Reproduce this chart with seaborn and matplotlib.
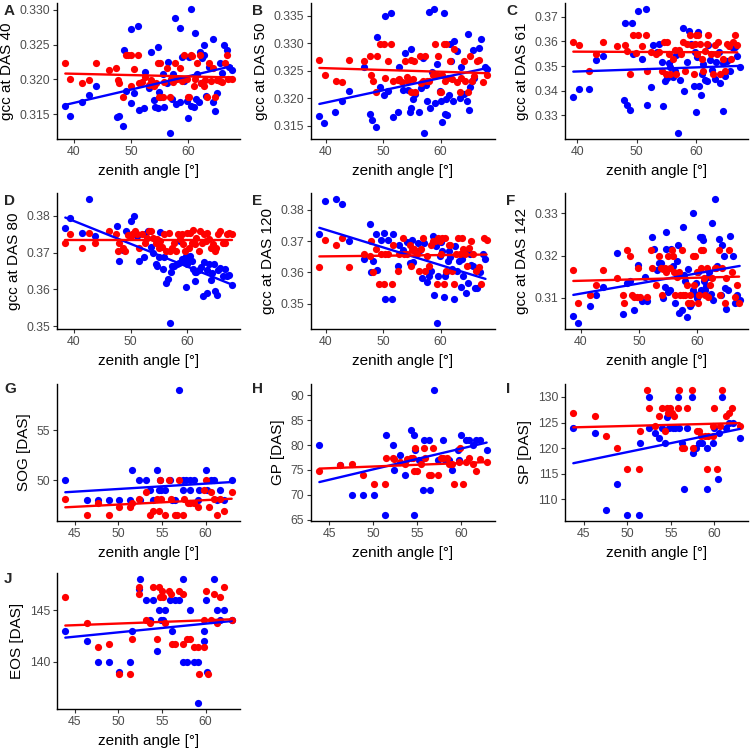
import numpy as np
import matplotlib
matplotlib.use("Agg")
import matplotlib.pyplot as plt
import seaborn as sns

# ---- data: (zenith angle, value) ----
a_blue = [(38.5,.3161),(39.4,.3147),(41.5,.3167),(42.6,.3178),(43.8,.3191),(47.6,.3146),(48.0,.3147),(48.6,.3133),
          (48.8,.3242),(49.2,.3183),(50.0,.3166),(50.1,.3272),(50.6,.3181),(51.2,.3277),(51.5,.3156),(52.3,.3159),
          (52.5,.3210),(53.1,.3187),(53.6,.3240),(54.0,.3170),(54.2,.3160),(54.7,.3247),(54.7,.3159),(55.0,.3182),
          (55.2,.3174),(55.7,.3207),(55.8,.3160),(56.3,.3195),(56.6,.3225),(56.9,.3123),(57.3,.3171),(57.4,.3208),
          (57.8,.3288),(58.0,.3164),(58.7,.3274),(58.7,.3167),(59.0,.3232),(59.3,.3197),(59.8,.3169),(60.0,.3145),
          (60.2,.3232),(60.5,.3301),(60.6,.3162),(61.0,.3160),(61.3,.3266),(61.5,.3171),(61.6,.3207),(62.0,.3167),
          (62.2,.3240),(62.4,.3195),(62.8,.3249),(62.9,.3235),(63.2,.3176),(63.8,.3218),(64.4,.3167),(64.5,.3258),
          (64.7,.3155),(65.2,.3181),(65.6,.3223),(66.0,.3209),(66.4,.3249),(66.9,.3242),(67.3,.3218),(67.7,.3214),
          (62.5,.3230)]
a_red = [(38.5,.3224),(39.4,.3200),(41.5,.3195),(42.6,.3199),(43.8,.3224),(46.2,.3214),(47.4,.3217),(47.7,.3199),
         (48.0,.3195),(48.6,.3174),(49.1,.3235),(49.5,.3235),(50.0,.3190),(50.1,.3235),(50.6,.3215),(51.2,.3235),
         (51.5,.3195),(52.0,.3196),(52.5,.3204),(53.1,.3192),(53.5,.3199),(54.0,.3190),(54.4,.3195),(54.7,.3224),
         (55.0,.3175),(55.2,.3224),(55.7,.3175),(55.8,.3196),(56.3,.3216),(56.9,.3175),(57.0,.3200),(57.4,.3196),
         (57.8,.3224),(58.1,.3200),(58.7,.3216),(59.0,.3197),(59.4,.3235),(59.8,.3200),(60.0,.3175),(60.2,.3174),
         (60.5,.3235),(60.8,.3233),(61.0,.3191),(61.3,.3200),(61.7,.3224),(62.2,.3235),(62.4,.3195),(62.8,.3190),
         (63.1,.3199),(63.4,.3175),(63.8,.3224),(64.1,.3197),(64.5,.3217),(64.8,.3175),(65.2,.3199),(65.7,.3197),
         (66.0,.3196),(66.5,.3224),(66.9,.3235),(67.0,.3200),(67.7,.3200)]

b_blue = [(38.9,.3168),(39.7,.3155),(41.7,.3174),(42.9,.3195),(44.0,.3214),(46.6,.3257),(47.7,.3171),(48.1,.3161),
          (48.7,.3148),(49.0,.3311),(49.5,.3221),(50.1,.3206),(50.3,.3349),(50.9,.3214),(51.4,.3355),(51.7,.3166),
          (52.6,.3174),(52.7,.3257),(53.5,.3215),(53.8,.3283),(54.4,.3215),(54.6,.3174),(54.8,.3289),(54.9,.3183),
          (55.2,.3198),(55.6,.3207),(56.2,.3174),(56.5,.3218),(56.9,.3230),(57.0,.3274),(57.1,.3137),(57.4,.3224),
          (57.6,.3194),(58.0,.3356),(58.1,.3183),(58.5,.3248),(58.8,.3362),(59.0,.3192),(59.3,.3263),(59.8,.3214),
          (60.0,.3195),(60.2,.3157),(60.6,.3355),(60.8,.3171),(61.0,.3198),(61.1,.3170),(61.4,.3206),(61.6,.3298),
          (61.8,.3267),(62.2,.3195),(62.4,.3304),(62.8,.3285),(63.3,.3201),(63.5,.3257),(64.0,.3207),(64.5,.3194),
          (64.7,.3317),(64.9,.3179),(65.1,.3220),(65.6,.3287),(65.8,.3237),(66.6,.3292),(67.0,.3307),(67.7,.3257),
          (68.0,.3254),(65.4,.3231)]
b_red = [(38.9,.3270),(39.8,.3242),(41.8,.3232),(42.9,.3229),(44.0,.3270),(46.6,.3268),(47.7,.3276),(47.9,.3242),
         (48.2,.3232),(48.7,.3211),(49.0,.3276),(49.5,.3298),(50.2,.3298),(50.3,.3237),(50.8,.3268),(51.4,.3298),
         (51.7,.3232),(52.6,.3233),(52.7,.3235),(53.3,.3229),(53.8,.3268),(54.1,.3238),(54.4,.3232),(54.8,.3270),
         (54.9,.3212),(55.2,.3235),(55.4,.3268),(55.6,.3212),(56.4,.3276),(56.5,.3227),(56.9,.3232),(57.3,.3276),
         (57.6,.3232),(57.9,.3232),(58.6,.3242),(59.0,.3298),(59.3,.3242),(59.6,.3276),(59.9,.3211),(60.1,.3211),
         (60.3,.3242),(60.6,.3298),(60.8,.3231),(61.0,.3298),(61.3,.3237),(61.6,.3268),(62.0,.3235),(62.4,.3289),
         (62.9,.3229),(63.3,.3211),(63.5,.3237),(64.0,.3268),(64.3,.3232),(64.8,.3211),(65.1,.3276),(65.4,.3232),
         (65.8,.3241),(66.3,.3268),(66.6,.3270),(67.4,.3229),(68.0,.3242)]

c_blue = [(39.3,.3374),(40.2,.3407),(42.0,.3407),(43.1,.3526),(44.3,.3540),(47.8,.3362),(48.0,.3676),(48.3,.3342),
          (48.9,.3322),(49.2,.3673),(49.4,.3548),(50.3,.3723),(50.9,.3530),(51.5,.3731),(51.8,.3340),(52.5,.3415),
          (52.7,.3586),(53.4,.3556),(53.8,.3588),(54.2,.3516),(54.5,.3338),(54.8,.3439),(55.1,.3450),(55.4,.3514),
          (55.7,.3498),(56.1,.3455),(56.4,.3479),(56.7,.3543),(57.0,.3229),(57.4,.3442),(57.8,.3655),(58.0,.3399),
          (58.5,.3516),(58.8,.3644),(59.1,.3588),(59.7,.3421),(59.8,.3559),(60.0,.3314),(60.2,.3538),(60.4,.3639),
          (60.6,.3418),(60.8,.3383),(61.0,.3466),(61.2,.3508),(61.5,.3445),(61.8,.3439),(62.1,.3586),(62.4,.3526),
          (62.7,.3485),(63.2,.3447),(63.4,.3516),(64.0,.3431),(64.5,.3317),(64.6,.3511),(64.9,.3460),(65.2,.3522),
          (65.8,.3479),(66.2,.3572),(66.6,.3578),(67.0,.3539),(67.4,.3495),(63.9,.3559)]
c_red = [(39.3,.3596),(40.2,.3586),(42.0,.3482),(43.1,.3548),(44.3,.3596),(46.7,.3580),(48.0,.3586),(48.3,.3562),
         (48.9,.3466),(49.4,.3628),(49.9,.3554),(50.3,.3628),(50.9,.3580),(51.5,.3628),(51.7,.3482),(52.5,.3559),
         (53.3,.3551),(53.8,.3556),(54.3,.3482),(54.7,.3596),(55.0,.3466),(55.1,.3596),(55.4,.3548),(55.7,.3466),
         (56.1,.3530),(56.4,.3564),(56.7,.3466),(57.2,.3564),(57.5,.3551),(57.9,.3596),(58.2,.3482),(58.5,.3588),
         (59.0,.3628),(59.3,.3586),(59.6,.3466),(59.8,.3588),(60.0,.3628),(60.2,.3551),(60.4,.3628),(60.7,.3588),
         (61.0,.3530),(61.2,.3482),(61.5,.3562),(61.9,.3588),(62.1,.3628),(62.5,.3551),(62.9,.3466),(63.2,.3586),
         (63.5,.3548),(63.8,.3596),(64.0,.3466),(64.5,.3530),(64.9,.3482),(65.2,.3588),(65.6,.3580),(66.0,.3530),
         (66.3,.3596),(66.6,.3628),(67.0,.3586)]

d_blue = [(38.5,.3767),(39.4,.3793),(41.5,.3754),(42.6,.3845),(43.8,.3746),(47.6,.3773),(48.0,.3677),(48.6,.3707),
          (49.2,.3759),(50.0,.3786),(50.6,.3798),(51.2,.3746),(51.5,.3677),(52.3,.3689),(52.5,.3750),(53.1,.3759),
          (53.6,.3716),(54.0,.3700),(54.4,.3668),(54.7,.3664),(55.0,.3689),(55.2,.3757),(55.7,.3654),(55.8,.3687),
          (56.3,.3618),(56.6,.3629),(56.9,.3509),(57.1,.3646),(57.3,.3664),(57.7,.3663),(58.1,.3668),(58.5,.3671),
          (58.7,.3730),(59.0,.3682),(59.3,.3679),(59.7,.3691),(59.8,.3607),(60.0,.3668),(60.2,.3682),(60.5,.3691),
          (60.8,.3677),(61.0,.3654),(61.3,.3646),(61.4,.3623),(61.6,.3646),(62.0,.3652),(62.4,.3661),(62.8,.3582),
          (62.9,.3673),(63.4,.3652),(63.5,.3591),(63.8,.3670),(64.1,.3625),(64.4,.3645),(64.7,.3668),(64.8,.3596),
          (65.2,.3584),(65.4,.3652),(65.7,.3659),(66.3,.3637),(66.6,.3655),(66.9,.3636),(67.3,.3639),(67.8,.3611)]
d_red = [(38.5,.3727),(39.4,.3750),(41.5,.3712),(42.6,.3752),(43.8,.3727),(46.2,.3759),(47.4,.3750),(47.7,.3705),
         (48.0,.3727),(48.6,.3712),(49.0,.3705),(49.5,.3748),(50.0,.3745),(50.3,.3750),(50.7,.3759),(51.2,.3750),
         (51.5,.3712),(52.0,.3750),(52.5,.3727),(52.9,.3739),(53.3,.3759),(53.6,.3759),(54.0,.3739),(54.4,.3725),
         (54.7,.3737),(55.0,.3712),(55.2,.3732),(55.6,.3716),(55.9,.3750),(56.3,.3705),(56.7,.3752),(57.0,.3705),
         (57.3,.3712),(57.7,.3727),(58.0,.3705),(58.4,.3750),(58.7,.3737),(59.0,.3750),(59.3,.3723),(59.6,.3705),
         (59.9,.3752),(60.2,.3712),(60.5,.3752),(60.8,.3727),(61.0,.3761),(61.3,.3723),(61.6,.3739),(62.0,.3705),
         (62.3,.3759),(62.6,.3725),(62.9,.3750),(63.3,.3732),(63.5,.3752),(63.8,.3737),(64.1,.3712),(64.5,.3723),
         (64.8,.3705),(65.1,.3712),(65.4,.3750),(65.7,.3759),(66.3,.3725),(66.6,.3727),(66.9,.3750),(67.4,.3752),
         (67.8,.3750)]

e_blue = [(38.9,.3721),(39.8,.3827),(41.8,.3833),(42.9,.3819),(44.1,.3700),(46.6,.3642),(47.7,.3754),(47.9,.3600),
          (48.2,.3635),(48.7,.3721),(49.0,.3608),(49.6,.3702),(50.2,.3727),(50.3,.3517),(50.8,.3704),(51.5,.3517),
          (51.7,.3723),(52.6,.3621),(52.7,.3688),(53.5,.3673),(54.1,.3698),(54.6,.3631),(55.0,.3702),(55.2,.3633),
          (55.6,.3669),(56.0,.3694),(56.4,.3671),(56.8,.3583),(57.1,.3694),(57.6,.3571),(58.0,.3590),(58.4,.3606),
          (58.7,.3715),(58.8,.3529),(59.2,.3685),(59.4,.3440),(59.6,.3588),(59.9,.3652),(60.0,.3698),(60.3,.3667),
          (60.5,.3521),(60.7,.3588),(60.9,.3600),(61.2,.3638),(61.4,.3669),(61.6,.3648),(61.9,.3610),(62.3,.3515),
          (62.5,.3685),(62.9,.3606),(63.2,.3635),(63.5,.3554),(63.7,.3644),(63.9,.3590),(64.2,.3667),(64.4,.3535),
          (64.7,.3567),(65.1,.3660),(65.3,.3625),(65.6,.3621),(66.0,.3552),(66.4,.3552),(66.8,.3600),(67.4,.3658),
          (67.8,.3644)]
e_red = [(38.9,.3619),(39.8,.3702),(41.8,.3688),(42.9,.3710),(44.1,.3619),(46.6,.3660),(47.7,.3652),(47.9,.3700),
         (48.2,.3602),(48.7,.3675),(49.3,.3563),(49.6,.3660),(50.2,.3563),(50.4,.3660),(50.8,.3660),(51.5,.3563),
         (51.7,.3688),(52.6,.3604),(52.7,.3660),(53.4,.3710),(53.7,.3660),(54.1,.3660),(54.6,.3688),(54.8,.3621),
         (55.0,.3671),(55.4,.3675),(55.9,.3660),(56.2,.3604),(56.5,.3675),(56.9,.3710),(57.3,.3604),(57.6,.3652),
         (57.9,.3621),(58.3,.3688),(58.6,.3700),(59.0,.3700),(59.3,.3563),(59.6,.3710),(59.9,.3700),(60.1,.3660),
         (60.3,.3710),(60.6,.3563),(60.8,.3710),(61.0,.3604),(61.4,.3688),(61.6,.3688),(61.9,.3604),(62.3,.3563),
         (62.6,.3660),(63.0,.3710),(63.3,.3660),(63.7,.3710),(63.9,.3675),(64.2,.3660),(64.6,.3621),(64.9,.3679),
         (65.3,.3700),(65.6,.3660),(66.2,.3604),(66.6,.3619),(67.1,.3563),(67.5,.3710),(68.0,.3702)]

f_blue = [(38.7,.3057),(39.5,.3040),(41.5,.3081),(42.6,.3105),(43.8,.3125),(46.2,.3207),(47.3,.3060),(47.9,.3134),
          (48.5,.3140),(49.1,.3071),(49.8,.3178),(50.5,.3092),(51.1,.3148),(51.3,.3092),(52.2,.3244),(52.5,.3216),
          (53.0,.3165),(53.4,.3182),(53.8,.3182),(54.1,.3100),(54.5,.3125),(54.6,.3257),(54.7,.3215),(54.9,.3114),
          (55.3,.3119),(55.5,.3216),(55.9,.3174),(56.2,.3088),(56.5,.3188),(56.7,.3224),(56.9,.3064),(57.3,.3071),
          (57.5,.3267),(57.7,.3154),(57.9,.3139),(58.2,.3055),(58.5,.3167),(58.7,.3080),(59.0,.3085),(59.2,.3119),
          (59.3,.3302),(59.6,.3108),(59.8,.3135),(60.0,.3100),(60.2,.3160),(60.5,.3244),(60.6,.3119),(60.8,.3243),
          (61.0,.3238),(61.1,.3140),(61.4,.3119),(61.5,.3128),(61.8,.3148),(62.1,.3162),(62.3,.3108),(62.5,.3277),
          (62.7,.3094),(63.1,.3334),(63.4,.3176),(63.8,.3240),(64.1,.3105),(64.3,.3226),(64.6,.3199),(64.7,.3122),
          (64.9,.3072),(65.3,.3119),(65.6,.3247),(66.1,.3198),(66.5,.3086),(66.9,.3106),(67.3,.3094)]
f_red = [(38.7,.3165),(39.5,.3088),(41.5,.3106),(42.6,.3131),(43.8,.3165),(46.2,.3147),(47.3,.3106),(47.4,.3088),
         (47.9,.3212),(48.5,.3199),(48.8,.3106),(49.1,.3102),(49.6,.3102),(49.8,.3171),(50.1,.3102),(51.3,.3102),
         (52.1,.3212),(52.2,.3171),(52.9,.3131),(53.4,.3199),(53.7,.3171),(53.9,.3106),(54.2,.3168),(54.5,.3171),
         (54.6,.3160),(54.9,.3199),(55.3,.3171),(55.6,.3212),(55.8,.3199),(56.0,.3160),(56.2,.3106),(56.5,.3148),
         (56.8,.3160),(57.0,.3106),(57.3,.3212),(57.6,.3106),(57.9,.3106),(58.2,.3131),(58.5,.3088),(58.7,.3106),
         (59.0,.3088),(59.2,.3199),(59.4,.3131),(59.7,.3199),(59.9,.3160),(60.1,.3088),(60.3,.3106),(60.6,.3171),
         (60.7,.3212),(61.0,.3212),(61.1,.3147),(61.4,.3106),(61.7,.3171),(61.9,.3102),(62.2,.3131),(62.5,.3147),
         (63.0,.3171),(63.3,.3171),(63.7,.3212),(63.9,.3106),(64.2,.3171),(64.7,.3088),(65.0,.3147),(65.5,.3212),
         (65.9,.3160),(66.5,.3102),(66.9,.3131),(67.2,.3088)]

g_blue = [(43.9,50),(46.4,48),(47.6,48),(48.9,48),(50.1,48),(51.3,48),(51.5,51),(52.4,50),(52.5,48),(53.2,50),
          (53.6,49),(54.0,48),(54.4,51),(54.7,49),(54.8,50),(54.9,49),(55.4,49),(55.9,50),(56.2,48),(56.5,48),
          (56.9,59),(57.4,50),(57.4,49),(57.8,50),(58.2,49),(58.2,50),(58.7,50),(59.1,48),(59.3,49),(60.0,51),
          (60.2,49),(60.6,50),(61.0,50),(61.3,48),(61.7,49),(62.1,48),(63.0,50)]
g_red = [(43.9,48.15),(46.4,46.55),(47.6,47.7),(48.9,46.55),(50.1,47.35),(51.3,47.35),(51.5,47.75),(52.4,48.15),
         (53.2,48.8),(53.6,46.55),(54.0,46.9),(54.4,48.15),(54.7,46.9),(54.8,50),(54.9,48.15),(55.4,46.55),
         (55.8,50),(56.0,48.15),(56.5,46.55),(56.7,46.55),(56.9,50),(57.4,46.55),(57.5,48.15),(58.0,47.75),
         (58.2,47.75),(58.7,47.75),(59.1,47.35),(59.8,49),(60.0,50),(60.4,47.35),(60.6,48.8),(61.0,48.15),
         (61.3,46.55),(61.7,48.15),(62.1,46.9),(63.0,48.8)]

h_blue = [(43.9,80),(46.3,76),(47.6,70),(48.8,70),(50.1,70),(51.3,66),(51.5,82),(52.3,80),(52.4,75),(53.1,78),
          (53.6,74),(54.3,83),(54.7,82),(54.7,66),(54.8,79),(55.2,77),(55.5,77),(55.7,71),(55.8,81),(56.3,81),
          (56.5,71),(56.9,91),(57.4,77),(58.0,81),(58.2,77),(58.6,77),(59.0,75),(59.6,79),(59.8,77),(60.0,82),
          (60.5,81),(60.9,81),(61.3,80),(61.7,81),(62.1,81),(62.9,79)]
h_red = [(43.9,74.8),(46.3,75.9),(47.6,76.1),(48.8,74.0),(50.1,72.1),(51.3,72.1),(51.5,77.3),(52.3,77.3),
         (52.4,77.1),(53.1,76.6),(53.6,76.1),(53.9,77.1),(54.3,77.3),(54.5,77.3),(54.7,74.8),(54.8,79.4),
         (55.0,74.8),(55.4,76.1),(55.8,79.4),(55.9,77.3),(56.3,74.0),(56.6,74.0),(56.8,79.4),(57.4,74.0),
         (57.7,77.3),(58.0,77.3),(58.4,77.3),(58.6,76.1),(59.0,76.1),(59.2,72.1),(59.8,76.6),(59.9,79.4),
         (60.2,72.1),(60.5,76.6),(60.9,77.3),(61.3,76.1),(61.7,74.8),(62.1,77.1),(62.9,76.6)]

i_blue = [(43.8,124),(46.3,123),(47.6,108),(48.8,113),(50.0,107),(51.3,107),(51.5,121),(52.5,130),(52.5,124),
          (53.2,123),(53.6,122),(54.0,124),(54.3,121),(54.6,126),(54.8,124),(55.2,124),(55.5,124),(55.8,130),
          (55.9,124),(56.3,121),(56.5,112),(56.9,124),(57.4,130),(57.5,119),(57.9,120),(58.2,121),(58.6,121),
          (59.1,120),(59.1,112),(59.8,121),(60.0,124),(60.4,114),(60.5,123),(60.9,130),(61.3,124),(61.7,125),
          (62.1,125),(62.9,122)]
i_red = [(43.8,126.9),(46.3,126.2),(47.6,122.4),(48.8,120.1),(50.0,116),(51.3,116),(51.5,123.3),(52.3,131.3),
         (52.5,127.9),(53.2,124.4),(53.6,126.2),(54.0,127.9),(54.3,123.3),(54.5,127.9),(54.7,126.9),(54.9,127.9),
         (55.1,126.9),(55.4,126.2),(55.8,127.9),(55.9,131.3),(56.3,120.1),(56.5,120.1),(56.9,127.9),(57.4,131.3),
         (57.5,120.1),(58.0,123.3),(58.2,123.3),(58.5,122.4),(58.9,122.4),(59.1,116),(59.3,122.4),(59.8,122.4),
         (59.8,124.4),(60.0,127.9),(60.3,116),(60.6,124.4),(60.9,131.3),(61.3,126.2),(61.7,126.9),(62.0,127.9),
         (62.9,124.4)]

j_blue = [(43.9,143),(46.4,142),(47.6,140),(48.9,140),(50.1,139),(51.3,140),(51.5,143),(52.4,147),(52.5,148),
          (53.2,146),(53.6,144),(54.0,146),(54.4,141),(54.7,145),(54.9,144),(55.1,144),(55.4,145),(55.9,146),
          (56.2,143),(56.5,146),(56.9,146),(57.4,140),(57.4,148),(57.9,140),(58.2,145),(58.7,140),(59.1,140),
          (59.1,136),(59.8,142),(59.8,143),(60.0,146),(60.2,139),(61.0,148),(61.3,145),(61.7,144),(62.1,145),
          (63.0,144)]
j_red = [(43.9,146.3),(46.4,143.7),(47.6,141.4),(48.9,141.7),(50.1,138.8),(51.3,138.8),(51.5,142.2),(52.4,147.2),
         (52.4,146.6),(53.2,144.0),(53.6,143.7),(54.0,147.2),(54.4,142.2),(54.7,147.2),(54.8,146.3),(55.0,146.9),
         (55.1,146.3),(55.4,143.7),(55.8,146.9),(56.0,146.6),(56.2,141.7),(56.5,141.7),(56.9,146.9),(57.4,146.6),
         (57.4,141.7),(57.9,142.2),(58.2,142.2),(58.7,141.4),(59.1,141.4),(59.3,138.8),(59.8,141.4),(59.8,144.0),
         (60.0,146.9),(60.3,138.8),(60.6,144.0),(61.0,146.6),(61.3,143.7),(61.7,146.3),(62.1,147.2),(63.0,144.0)]

panel_letters = ["A", "B", "C", "D", "E", "F", "G", "H", "I", "J"]
y_labels = ["gcc at DAS 40", "gcc at DAS 50", "gcc at DAS 61", "gcc at DAS 80", "gcc at DAS 120",
            "gcc at DAS 142", "SOG [DAS]", "GP [DAS]", "SP [DAS]", "EOS [DAS]"]
y_ticks = [["0.315", "0.320", "0.325", "0.330"],
           ["0.315", "0.320", "0.325", "0.330", "0.335"],
           ["0.33", "0.34", "0.35", "0.36", "0.37"],
           ["0.35", "0.36", "0.37", "0.38"],
           ["0.35", "0.36", "0.37", "0.38"],
           ["0.31", "0.32", "0.33"],
           ["50", "55"],
           ["65", "70", "75", "80", "85", "90"],
           ["110", "115", "120", "125", "130"],
           ["140", "145"]]
x_ticks_gcc = [40, 50, 60]
x_ticks_pheno = [45, 50, 55, 60]
blues = [a_blue, b_blue, c_blue, d_blue, e_blue, f_blue, g_blue, h_blue, i_blue, j_blue]
reds = [a_red, b_red, c_red, d_red, e_red, f_red, g_red, h_red, i_red, j_red]

sns.set_theme(style="ticks")
plt.rcParams["font.family"] = ["Liberation Sans", "DejaVu Sans"]

fig = plt.figure(figsize=(7.5, 7.5), dpi=100)

# axes boxes in pixels: left, right, top, bottom
col_lr = [(57, 240), (311, 495), (565, 748)]
row_tb = [(3, 139), (193, 329), (384, 521), (573, 709)]
cell_xy = [(4, 0), (252, 0), (506, 0)]
row_y0 = [0, 190, 378, 568]

for k in range(10):
    r, c = divmod(k, 3)
    l, rr = col_lr[c]
    t, b = row_tb[r]
    ax = fig.add_axes([l / 750, 1 - b / 750, (rr - l) / 750, (b - t) / 750])
    bx, by = zip(*blues[k])
    rx, ry = zip(*reds[k])
    sns.scatterplot(x=list(bx), y=list(by), color="blue", s=27, linewidth=0, ax=ax, zorder=2)
    sns.scatterplot(x=list(rx), y=list(ry), color="red", s=27, linewidth=0, ax=ax, zorder=2)
    sns.regplot(x=np.array(bx), y=np.array(by), scatter=False, ci=None, color="blue",
                line_kws={"lw": 1.7}, ax=ax)
    sns.regplot(x=np.array(rx), y=np.array(ry), scatter=False, ci=None, color="red",
                line_kws={"lw": 1.7}, ax=ax)
    ax.set_yticks([float(v) for v in y_ticks[k]])
    ax.set_yticklabels(y_ticks[k])
    ax.set_xticks(x_ticks_gcc if k < 6 else x_ticks_pheno)
    ax.set_xlabel("zenith angle [°]", fontsize=11, color="black")
    ax.set_ylabel(y_labels[k], fontsize=11, color="black")
    ax.tick_params(direction="out", length=3, width=0.8, color="#333333",
                   labelcolor="#4D4D4D", labelsize=8.8, pad=2)
    sns.despine(ax=ax)
    for sp in ["left", "bottom"]:
        ax.spines[sp].set_color("black")
        ax.spines[sp].set_linewidth(1.0)
    ax.grid(False)
    fig.text(cell_xy[c][0] / 750, 1 - (row_y0[r] + 4) / 750, panel_letters[k],
             fontsize=11, fontweight="bold", va="top", ha="left")

fig.savefig("out.png", dpi=100, facecolor="white")
